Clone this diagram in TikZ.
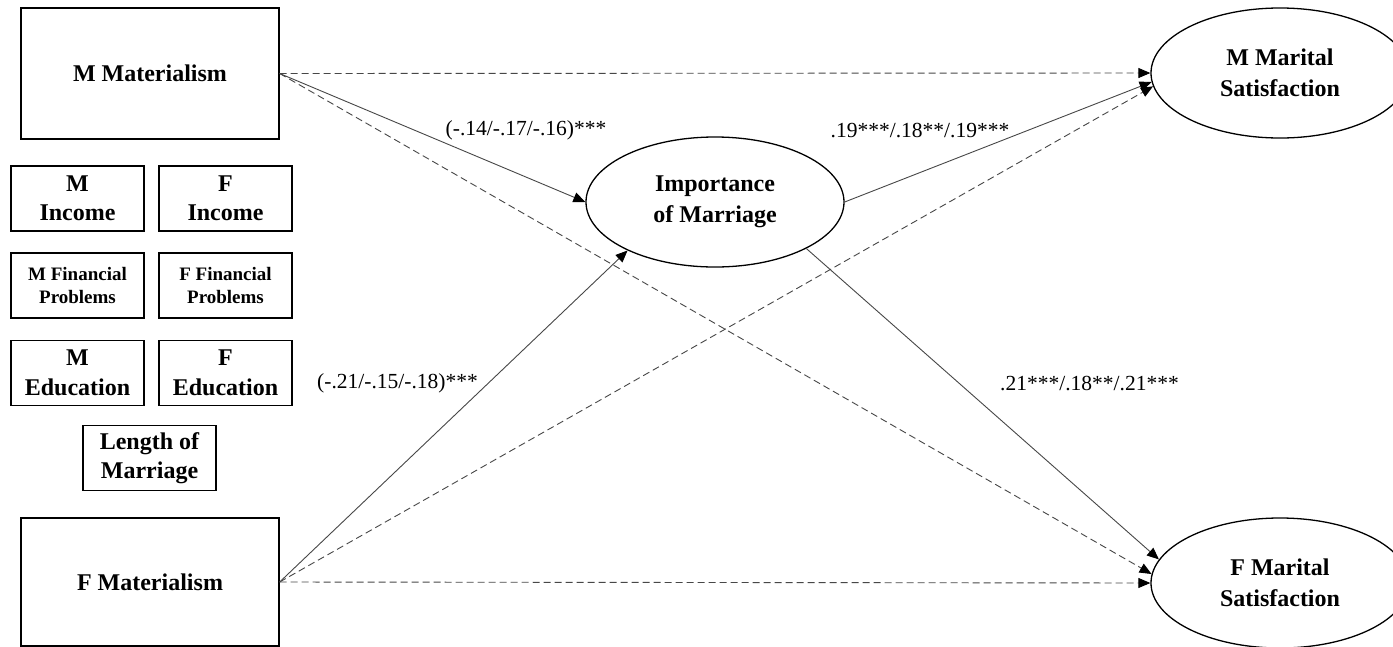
\documentclass[tikz,border=0pt]{standalone}
\usepackage{fontspec}
\setmainfont{Liberation Serif}
\usetikzlibrary{arrows.meta,shapes.geometric}
\begin{document}
\begin{tikzpicture}[x=1pt,y=-1pt,
  box/.style={draw=black,line width=1.3pt,align=center,inner sep=0pt,
    font=\fontsize{24}{29.5}\selectfont\bfseries},
  bigbox/.style={box,minimum width=258pt,minimum height=131pt},
  smallbox/.style={box,minimum width=133pt,minimum height=65pt},
  tinytext/.style={font=\fontsize{19}{23}\selectfont\bfseries},
  oval/.style={ellipse,draw=black,line width=1.3pt,minimum width=258pt,
    minimum height=130pt,inner sep=0pt,align=center,
    font=\fontsize{24}{31}\selectfont\bfseries},
  link/.style={draw=black!72,line width=0.9pt,
    -{Triangle[length=12pt,width=10pt,color=black]}},
  dlink/.style={link,dash pattern=on 7pt off 4pt},
  lab/.style={font=\fontsize{21.5}{25}\selectfont,inner sep=0pt}
]
\path[use as bounding box, clip] (0,0) rectangle (1393,646);
\fill[white] (0,0) rectangle (1393,646);

% exogenous boxes
\node[bigbox] (mmat) at (150,73.5) {M Materialism};
\node[bigbox,minimum height=128pt] (fmat) at (150,582) {F Materialism};

% covariates
\node[smallbox] (minc) at (77.5,198.5) {M\\Income};
\node[smallbox] (finc) at (225.5,198.5) {F\\Income};
\node[smallbox,tinytext] (mfp) at (77.5,285.5) {M Financial\\Problems};
\node[smallbox,tinytext] (ffp) at (225.5,285.5) {F Financial\\Problems};
\node[smallbox] (medu) at (77.5,373) {M\\Education};
\node[smallbox] (fedu) at (225.5,373) {F\\Education};
\node[smallbox] (lom) at (149.5,458) {Length of\\Marriage};

% latent / outcome ovals
\node[oval] (imp) at (715,202) {Importance\\of Marriage};
\node[oval] (mms) at (1280,73) {M Marital\\Satisfaction};
\node[oval] (fms) at (1280,583) {F Marital\\Satisfaction};

% paths
\draw[dlink] (mmat.east) -- (mms.west);
\draw[link]  (mmat.east) -- (imp.west);
\draw[dlink] (mmat.east) -- (fms.176);
\draw[link]  (fmat.east) -- (imp.209);
\draw[dlink] (fmat.east) -- (mms.186.5);
\draw[dlink] (fmat.east) -- (fms.west);
\draw[link]  (imp.east) -- (mms.184);
\draw[link]  (imp.-27) -- (fms.169);

% coefficients
\node[lab] (l1) at (526,130) {(-.14/-.17/-.16)***};
\node[lab] (l2) at (920,130) {.19***/.18**/.19***};
\node[lab,anchor=east] (l3) at (478,383) {(-.21/-.15/-.18)***};
\node[lab,anchor=west] (l4) at (1000,383) {.21***/.18**/.21***};
\end{tikzpicture}
\end{document}
